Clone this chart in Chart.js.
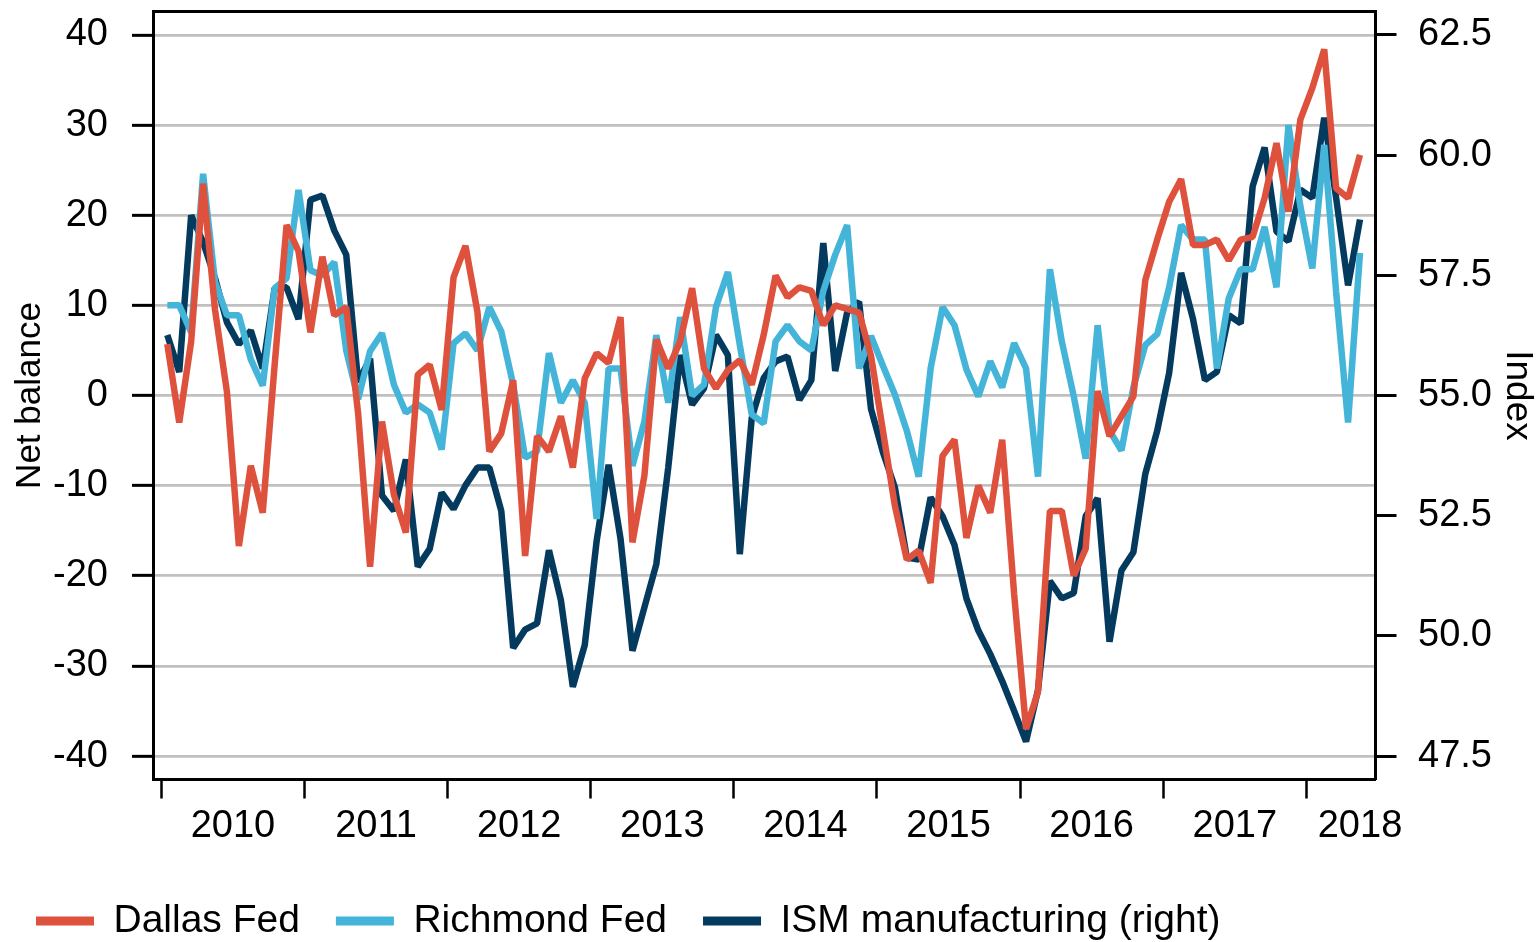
<!DOCTYPE html>
<html>
<head>
<meta charset="utf-8">
<script src="https://cdn.jsdelivr.net/npm/chart.js@4.4.1/dist/chart.umd.min.js"></script>
<style>
  html, body { margin: 0; padding: 0; background: #fff; }
  #wrap { position: relative; width: 1539px; height: 942px; }
</style>
</head>
<body>
<div id="wrap"><canvas id="c"></canvas></div>
<script>
// ---- Data (monthly, Jan 2010 .. May 2018) ----
const dallasFed = [
  5.7, -3, 6, 23.5, 9.5, 0.4, -16.7, -7.8, -13, 3.4, 18.9, 16,
  7, 15.4, 8.9, 9.8, -2, -19, -2.9, -11, -15.2, 2.3, 3.4, -1.6,
  13.1, 16.6, 9.3, -6.2, -4.2, 1.7, -17.8, -4.5, -6.2, -2.3, -8, 1.9,
  4.7, 3.6, 8.7, -16.3, -8.9, 6.2, 3, 6, 11.9, 3, 0.8, 2.8,
  3.9, 1.2, 6.7, 13.3, 10.9, 12, 11.6, 7.8, 10, 9.6, 9.2, 4.4,
  -3.9, -12.2, -18.2, -17.2, -20.8, -6.7, -4.9, -15.8, -10, -13, -4.9, -22,
  -37, -32.9, -12.8, -12.8, -20, -17, 0.5, -4.5, -2.3, -0.1, 12.8, 17.3,
  21.5, 24, 16.7, 16.7, 17.3, 15, 17.3, 17.6, 21.9, 28, 20.4, 30.6,
  34.1, 38.4, 23, 21.9, 26.7
];
const richmondFed = [
  10, 10, 7, 24.6, 12.6, 8.9, 8.9, 4, 1.1, 11.9, 13, 22.8,
  13.9, 13.3, 14.8, 5, -0.4, 4.9, 6.9, 1.2, -1.9, -1, -1.9, -6,
  5.8, 6.9, 5, 9.8, 7.1, 1.2, -6.9, -6.2, 4.7, -0.8, 1.7, -0.8,
  -13.7, 3, 3, -7.8, -2.9, 6.7, -0.8, 8.7, 0, 1.2, 9.8, 13.7,
  5.6, -2.1, -3.1, 6, 7.8, 6, 5, 11.6, 15.6, 18.9, 3, 6.6,
  3.3, 0.1, -3.9, -9, 3, 9.8, 7.8, 2.9, -0.1, 3.8, 0.9, 5.8,
  3, -9, 14, 6, -0.1, -7, 7.8, -3.9, -6.1, 0.9, 5.6, 6.8,
  12, 18.9, 17.3, 17.3, 3, 10.8, 14, 14, 18.7, 12, 30, 21,
  14.1, 27.8, 11.5, -3, 15.8
];
const ismManufacturing = [
  56.26, 55.49, 58.75, 58.19, 57.44, 56.52, 56.07, 56.35, 55.56, 57.23, 57.25, 56.59,
  59.07, 59.16, 58.43, 57.93, 55.28, 55.77, 52.92, 52.60, 53.67, 51.44, 51.81, 52.98,
  52.64, 53.13, 53.50, 53.50, 52.60, 49.75, 50.13, 50.26, 51.78, 50.74, 48.94, 49.81,
  51.98, 53.56, 52.02, 49.69, 50.59, 51.49, 53.50, 55.84, 54.81, 55.15, 56.26, 55.84,
  51.70, 54.53, 55.36, 55.71, 55.81, 54.91, 55.32, 58.17, 55.51, 56.73, 56.95, 54.72,
  53.82, 53.09, 51.63, 51.59, 52.88, 52.49, 51.89, 50.78, 50.11, 49.62, 49.06, 48.44,
  47.80, 48.87, 51.14, 50.78, 50.89, 52.49, 52.86, 49.88, 51.36, 51.74, 53.37, 54.27,
  55.47, 57.55, 56.59, 55.32, 55.49, 56.67, 56.50, 59.35, 60.16, 58.41, 58.21, 59.28,
  59.11, 60.78, 59.11, 57.29, 58.66
];

// ---- Axis labels / ticks ----
const yearLabels = ['2010', '2011', '2012', '2013', '2014', '2015', '2016', '2017', '2018'];
const yearLabelPos = [6, 18, 30, 42, 54, 66, 78, 90, 100.5];   // months since Jan 2010
const yearTickPos = [0, 12, 24, 36, 48, 60, 72, 84, 96];
const leftTicks = [-40, -30, -20, -10, 0, 10, 20, 30, 40];
const rightTicks = [47.5, 50, 52.5, 55, 57.5, 60, 62.5];
const seriesNames = ['Dallas Fed', 'Richmond Fed', 'ISM manufacturing (right)'];

// ---- Styles ----
const colRed = '#DE513C';
const colLight = '#44B5D9';
const colDark = '#053A5F';
const FONT = "'Liberation Sans', Arial, Helvetica, sans-serif";
const LEFT_MIN = -42.6, LEFT_MAX = 42.6;
const toRight = v => 55 + v * 0.1875;
const LINE_W = 6.5;

Chart.defaults.font.family = FONT;
Chart.defaults.color = '#000';

const pts = arr => arr.map((v, i) => ({ x: i + 0.5, y: v }));

const legendShift = {
  id: 'legendShift',
  afterLayout(chart) {
    if (chart.legend) {
      const h = chart.legend.height;
      chart.legend.top = 865.5;
      chart.legend.bottom = 865.5 + h;
    }
  }
};

const noPad = (axis) => {
  axis.paddingTop = 0; axis.paddingBottom = 0;
  axis.paddingLeft = 0; axis.paddingRight = 0;
};

const lineStyle = (color) => ({
  borderColor: color,
  backgroundColor: color,
  borderWidth: LINE_W,
  tension: 0,
  borderJoinStyle: 'bevel',
  borderCapStyle: 'butt',
  pointRadius: 0,
  pointHoverRadius: 0,
  fill: false
});

new Chart(document.getElementById('c'), {
  type: 'line',
  data: {
    datasets: [
      Object.assign({ label: seriesNames[0], data: pts(dallasFed), yAxisID: 'y' }, lineStyle(colRed)),
      Object.assign({ label: seriesNames[1], data: pts(richmondFed), yAxisID: 'y' }, lineStyle(colLight)),
      Object.assign({ label: seriesNames[2], data: pts(ismManufacturing), yAxisID: 'y1' }, lineStyle(colDark))
    ]
  },
  options: {
    responsive: true,
    maintainAspectRatio: false,
    animation: false,
    layout: { padding: { top: 11.5, left: 0, right: 0, bottom: 0 } },
    plugins: {
      tooltip: { enabled: false },
      legend: {
        position: 'bottom',
        align: 'start',
        maxHeight: 80,
        labels: {
          boxWidth: 58,
          boxHeight: 9,
          padding: 36,
          color: '#000',
          font: { size: 39, family: FONT },
          generateLabels: (chart) =>
            Chart.defaults.plugins.legend.labels.generateLabels(chart).map(l => Object.assign(l, { lineWidth: 0 }))
        }
      }
    },
    scales: {
      x: {
        type: 'linear',
        position: 'bottom',
        min: -0.7,
        max: 101.8,
        afterBuildTicks: (axis) => {
          axis.ticks = yearTickPos.concat(yearLabelPos).sort((a, b) => a - b).map(v => ({ value: v }));
        },
        afterFit: (axis) => { axis.height = 82.5; noPad(axis); },
        ticks: {
          autoSkip: false,
          maxRotation: 0,
          minRotation: 0,
          padding: 5,
          font: { size: 38 },
          color: '#000',
          callback: (value) => {
            const i = yearLabelPos.indexOf(value);
            return i >= 0 ? yearLabels[i] : '';
          }
        },
        grid: {
          drawOnChartArea: false,
          drawTicks: true,
          tickLength: 19,
          tickWidth: 2.5,
          tickColor: (ctx) => (ctx.tick && yearTickPos.includes(ctx.tick.value)) ? '#000' : 'rgba(0,0,0,0)'
        },
        border: { display: true, color: '#000', width: 3 }
      },
      xTop: {
        type: 'linear',
        position: 'top',
        min: -0.7,
        max: 101.8,
        afterFit: (axis) => { axis.height = 0; noPad(axis); },
        ticks: { display: false },
        grid: { display: false, drawTicks: false },
        border: { display: true, color: '#000', width: 3 }
      },
      y: {
        type: 'linear',
        position: 'left',
        min: LEFT_MIN,
        max: LEFT_MAX,
        afterBuildTicks: (axis) => { axis.ticks = leftTicks.map(v => ({ value: v })); },
        afterFit: (axis) => { axis.width = 153; noPad(axis); },
        ticks: {
          padding: 24,
          font: { size: 38 },
          color: '#000',
          callback: (v) => String(v)
        },
        grid: {
          color: '#c0c0c0',
          lineWidth: 2.7,
          drawTicks: true,
          tickLength: 21,
          tickWidth: 3,
          tickColor: '#000'
        },
        border: { display: true, color: '#000', width: 3 },
        title: {
          display: true,
          text: 'Net balance',
          color: '#000',
          font: { size: 35 },
          padding: { top: 9, bottom: 0 }
        }
      },
      y1: {
        type: 'linear',
        position: 'right',
        min: toRight(LEFT_MIN),
        max: toRight(LEFT_MAX),
        afterBuildTicks: (axis) => { axis.ticks = rightTicks.map(v => ({ value: v })); },
        afterFit: (axis) => { axis.width = 163.5; noPad(axis); },
        ticks: {
          padding: 21.5,
          font: { size: 38 },
          color: '#000',
          callback: (v) => Number(v).toFixed(1)
        },
        grid: {
          drawOnChartArea: false,
          drawTicks: true,
          tickLength: 21,
          tickWidth: 3,
          tickColor: '#000'
        },
        border: { display: true, color: '#000', width: 3 },
        title: {
          display: true,
          text: 'Index',
          color: '#000',
          font: { size: 37 },
          padding: { top: 0, bottom: 0 }
        }
      }
    }
  },
  plugins: [legendShift]
});
</script>
</body>
</html>
